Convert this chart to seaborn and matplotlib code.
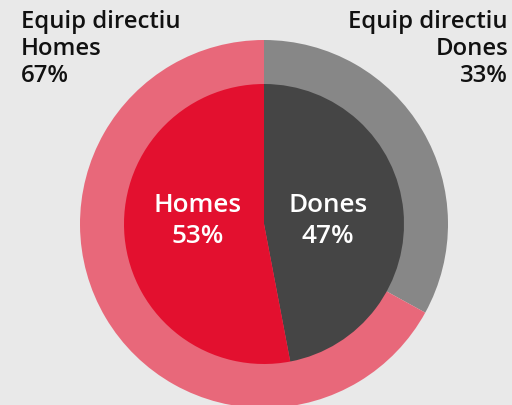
import matplotlib
matplotlib.use('Agg')
import matplotlib.pyplot as plt
import seaborn as sns

# data
outer_labels = ['Dones', 'Homes']
outer_values = [33, 67]
inner_labels = ['Dones', 'Homes']
inner_values = [47, 53]

outer_colors = ['#878787', '#e8687a']
inner_colors = ['#454545', '#e3102f']
bg = '#e9e9e9'

sns.set_style('white')
plt.rcParams['font.family'] = ['Open Sans', 'DejaVu Sans']

fig = plt.figure(figsize=(5.12, 4.05), dpi=100, facecolor=bg)
ax = fig.add_axes([0, 0, 1, 1])
ax.set_facecolor(bg)

cx, cy = 264, 181
ax.pie(outer_values, colors=outer_colors, startangle=90, counterclock=False,
       center=(cx, cy), radius=184, frame=True,
       wedgeprops=dict(linewidth=0))
ax.pie(inner_values, colors=inner_colors, startangle=90, counterclock=False,
       center=(cx, cy), radius=140, frame=True,
       wedgeprops=dict(linewidth=0))
ax.set_xlim(0, 512)
ax.set_ylim(0, 405)
ax.set_aspect('equal')
ax.axis('off')

# outer labels
ax.text(21, 395, 'Equip directiu\n%s\n%d%%' % (outer_labels[1], outer_values[1]),
        ha='left', va='top', fontsize=17.2, fontweight='semibold',
        linespacing=1.18, color='#111111')
ax.text(508, 395, 'Equip directiu\n%s\n%d%%' % (outer_labels[0], outer_values[0]),
        ha='right', va='top', fontsize=17.2, fontweight='semibold',
        linespacing=1.18, color='#111111', multialignment='right')

# inner labels
ax.text(198, 184, '%s\n%d%%' % (inner_labels[1], inner_values[1]),
        ha='center', va='center', fontsize=18.8, fontweight='semibold',
        linespacing=1.32, color='white')
ax.text(328, 184, '%s\n%d%%' % (inner_labels[0], inner_values[0]),
        ha='center', va='center', fontsize=18.8, fontweight='semibold',
        linespacing=1.32, color='white')

fig.savefig('out.png', dpi=100, facecolor=bg)
